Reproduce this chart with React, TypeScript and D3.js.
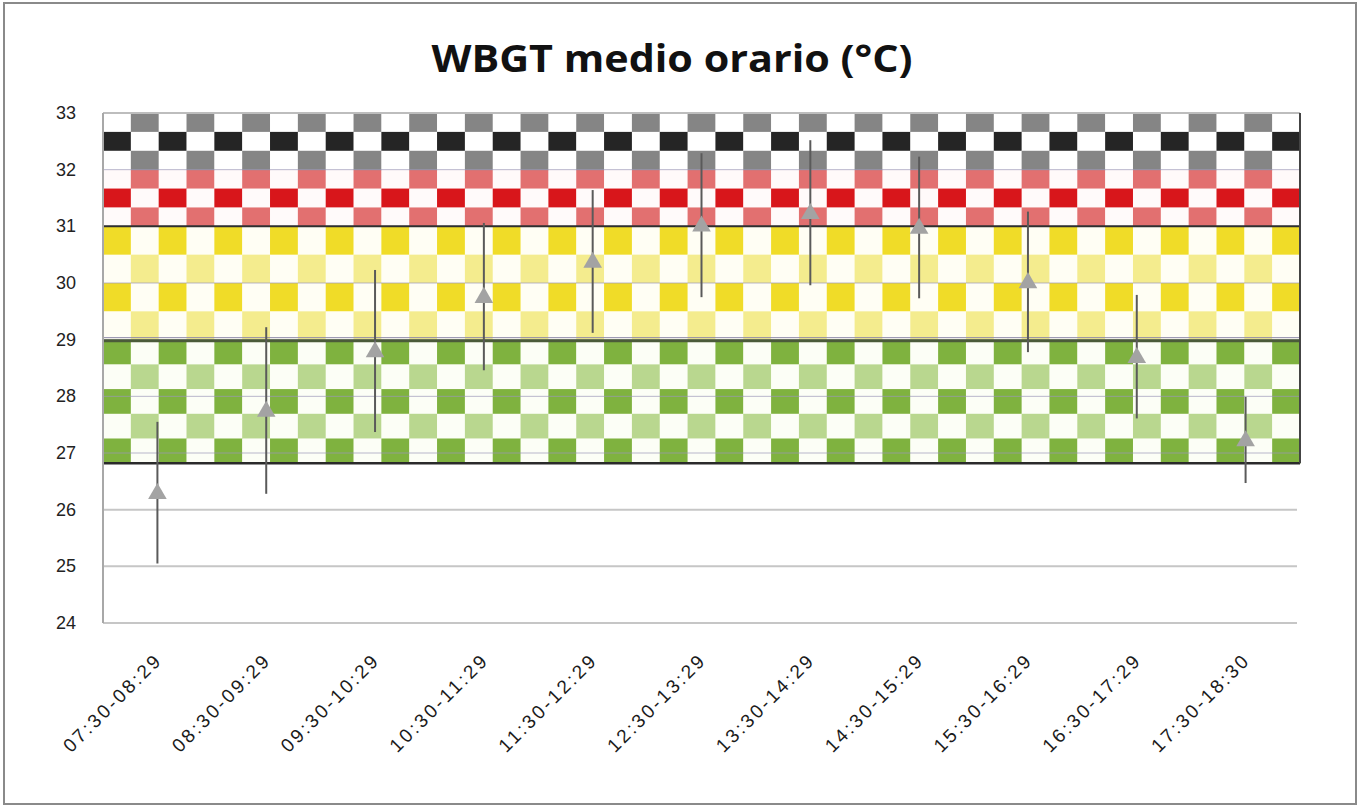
import React from 'react'
import * as d3 from 'd3'

const categories = [
  '07:30-08:29', '08:30-09:29', '09:30-10:29', '10:30-11:29', '11:30-12:29', '12:30-13:29',
  '13:30-14:29', '14:30-15:29', '15:30-16:29', '16:30-17:29', '17:30-18:30'
]
const meanWBGT = [26.3, 27.75, 28.8, 29.76, 30.38, 31.02, 31.24, 30.98, 30.02, 28.7, 27.23]
const sdWBGT = [1.25, 1.47, 1.43, 1.3, 1.26, 1.27, 1.28, 1.25, 1.24, 1.09, 0.76]
const yTicks = [24, 25, 26, 27, 28, 29, 30, 31, 32, 33]

// risk bands: lower / upper limit and row sequence (top to bottom)
const bandNames = ['green', 'yellow', 'red', 'black']
const bandLow = [26.82, 29, 31, 32]
const bandHigh = [29, 31, 32, 33]
const bandRows = [
  ['solid', 'light', 'solid', 'light', 'solid'],
  ['solid', 'light', 'solid', 'light'],
  ['light', 'solid', 'light'],
  ['light', 'solid', 'light']
]
const bandColors = {
  green: { solid: '#7fb23f', light: '#b9d78f', white: '#fcfef6' },
  yellow: { solid: '#f0dc28', light: '#f4ec8e', white: '#fffef4' },
  red: { solid: '#d8161b', light: '#e27070', white: '#fffafa' },
  black: { solid: '#252525', light: '#858585', white: '#ffffff' }
}

const W = 1363
const H = 806
const margin = { left: 103, right: 63, top: 113, bottom: 183 }
const nCols = 43

export default function App() {
  const innerW = W - margin.left - margin.right
  const x = d3.scaleBand().domain(categories).range([margin.left, margin.left + innerW]).padding(0)
  const y = d3.scaleLinear().domain([24, 33]).range([H - margin.bottom, margin.top])
  const cellW = innerW / nCols

  const cells: any[] = []
  bandNames.forEach((name, bi) => {
    const top = y(bandHigh[bi])
    const bottom = y(bandLow[bi])
    const rows = bandRows[bi]
    const rh = (bottom - top) / rows.length
    const c = (bandColors as any)[name]
    rows.forEach((kind, ri) => {
      const ry = top + ri * rh
      d3.range(nCols).forEach(ci => {
        const filled = kind === 'solid' ? ci % 2 === 0 : ci % 2 === 1
        cells.push(
          <rect
            key={`${name}-${ri}-${ci}`}
            x={margin.left + ci * cellW}
            y={ry}
            width={cellW + 0.4}
            height={rh + 0.4}
            fill={filled ? c[kind] : c.white}
          />
        )
      })
    })
  })

  const x0 = margin.left
  const x1 = margin.left + innerW
  const tri = d3.symbol().type(d3.symbolTriangle).size(150)

  return (
    <svg width={W} height={H} style={{ position: 'absolute', left: 0, top: 0, background: '#fff' }}>
      <rect x={4} y={3} width={1352} height={801} fill="#fff" stroke="#8a8a8a" strokeWidth={2} />
      <text
        x={672}
        y={72}
        textAnchor="middle"
        fontFamily="'Open Sans', sans-serif"
        fontWeight="bold"
        fontSize={37}
        textLength={481}
        lengthAdjust="spacingAndGlyphs"
        fill="#111"
      >
        WBGT medio orario (°C)
      </text>

      {/* gridlines below the bands */}
      {yTicks.map(t => (
        <line key={`g${t}`} x1={x0} x2={x1 - 3} y1={y(t)} y2={y(t)} stroke="#c6c6c6" strokeWidth={2} />
      ))}

      {cells}

      {/* gridlines seen through the bands */}
      {yTicks.filter(t => t >= 27 && t <= 32).map(t => (
        <line key={`b${t}`} x1={x0} x2={x1} y1={y(t)} y2={y(t)} stroke="#9d98b8" strokeWidth={1} opacity={0.7} />
      ))}
      <line x1={x0} x2={x1} y1={y(33)} y2={y(33)} stroke="#bdbdbd" strokeWidth={2} />
      <line x1={x0} x2={x1} y1={y(31)} y2={y(31)} stroke="#2f2f2f" strokeWidth={2} />
      <line x1={x0} x2={x1} y1={y(29) + 1} y2={y(29) + 1} stroke="#4b5b3a" strokeWidth={3} />
      <line x1={x0} x2={x1} y1={y(29) - 2} y2={y(29) - 2} stroke="#8d88a8" strokeWidth={1} />
      <line x1={x0} x2={x1} y1={y(bandLow[0])} y2={y(bandLow[0])} stroke="#2a2a2a" strokeWidth={2.5} />
      <line x1={x1} x2={x1} y1={y(33)} y2={y(bandLow[0])} stroke="#444" strokeWidth={2} />
      <line x1={x0} x2={x0} y1={y(33)} y2={y(24)} stroke="#a8a8a8" strokeWidth={2} />

      {/* y tick labels */}
      {yTicks.map(t => (
        <text
          key={`t${t}`}
          x={76}
          y={y(t) + 6}
          textAnchor="end"
          fontFamily="'Liberation Sans', Arial, sans-serif"
          fontSize={18}
          fill="#222"
        >
          {t}
        </text>
      ))}

      {/* x labels */}
      {categories.map(c => {
        const cx = (x(c) as number) + x.bandwidth() / 2
        return (
          <text
            key={c}
            transform={`translate(${cx + 4},${663}) rotate(-45)`}
            textAnchor="end"
            fontFamily="'Liberation Sans', Arial, sans-serif"
            fontSize={19}
            textLength={128}
            lengthAdjust="spacing"
            fill="#1a1a1a"
          >
            {c}
          </text>
        )
      })}

      {/* error bars and mean markers */}
      {categories.map((c, i) => {
        const cx = (x(c) as number) + x.bandwidth() / 2
        return (
          <g key={`p${c}`}>
            <line
              x1={cx}
              x2={cx}
              y1={y(meanWBGT[i] + sdWBGT[i])}
              y2={y(meanWBGT[i] - sdWBGT[i])}
              stroke="#5a5a5a"
              strokeWidth={2}
            />
            <path d={tri() as string} transform={`translate(${cx},${y(meanWBGT[i]) + 1})`} fill="#a3a3a3" />
          </g>
        )
      })}
    </svg>
  )
}
